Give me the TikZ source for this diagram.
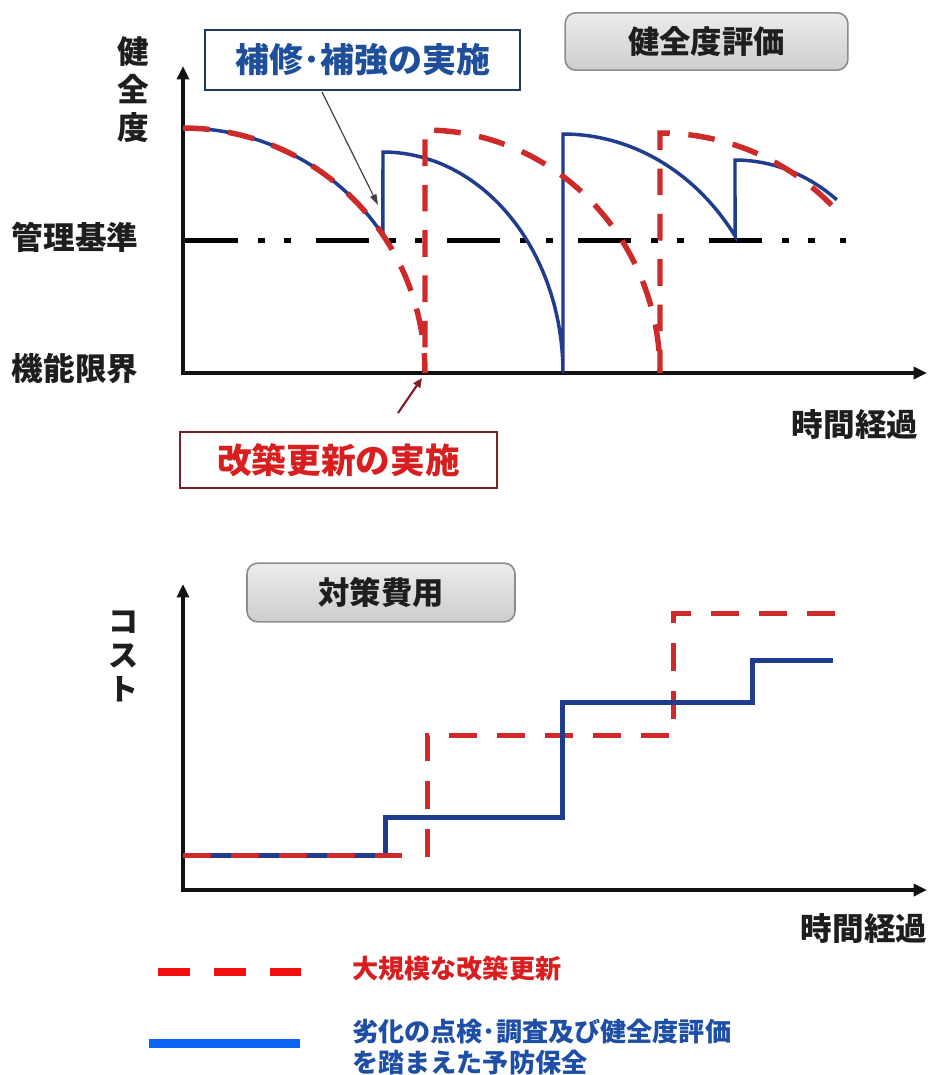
\documentclass[tikz,border=0pt]{standalone}
\usepackage{fontspec}
\setmainfont{Noto Sans CJK JP}
\usetikzlibrary{arrows.meta}
\definecolor{navy}{HTML}{1F3C8F}
\definecolor{dred}{HTML}{CF2A2A}
\definecolor{boxbluetxt}{HTML}{1F4E9A}
\definecolor{boxborder}{HTML}{1F3864}
\definecolor{redtxt}{HTML}{D81E1E}
\definecolor{redborder}{HTML}{7F1F2A}
\definecolor{legred}{HTML}{F01010}
\definecolor{legblue}{HTML}{0A64F5}
\definecolor{legbluetxt}{HTML}{1E4FA6}
\definecolor{graytop}{HTML}{ECECEC}
\definecolor{graybot}{HTML}{CDCDCD}
\definecolor{grayborder}{HTML}{8C8C8C}
\definecolor{axiscol}{HTML}{111111}
\definecolor{labelcol}{HTML}{1E1E1E}
\begin{document}
\begin{tikzpicture}[x=0.75pt,y=-0.75pt,
  axisline/.style={line width=3pt, draw=axiscol, -{Triangle[length=10pt,width=9pt]}},
  bluecurve/.style={line width=2.6pt, draw=navy},
  redcurve/.style={line width=4.1pt, draw=dred, dash pattern=on 20pt off 14pt},
  bluestep/.style={line width=3.75pt, draw=navy},
  redstep/.style={line width=3.75pt, draw=dred, dash pattern=on 21pt off 15pt},
  refline/.style={line width=3.75pt, draw=black, dash pattern=on 39.75pt off 15pt on 5.25pt off 14.25pt on 5.25pt off 18.75pt},
  labeltext/.style={font=\bfseries\fontsize{23.7pt}{28.5pt}\selectfont, text=labelcol, inner sep=0pt},
  vlabel/.style={labeltext, align=center},
  graybox/.style={draw=grayborder, line width=1.2pt, rounded corners=8pt, top color=graytop, bottom color=graybot, inner sep=0pt, font=\bfseries\fontsize{23.5pt}{28pt}\selectfont, text=labelcol},
  bluebox/.style={draw=boxborder, line width=1.6pt, fill=white, text=boxbluetxt, inner sep=0pt, minimum width=236pt, minimum height=45pt, font=\bfseries\fontsize{25.5pt}{30pt}\selectfont},
  redbox/.style={draw=redborder, line width=1.6pt, fill=white, text=redtxt, inner sep=0pt, minimum width=238pt, minimum height=42pt, font=\bfseries\fontsize{26pt}{30pt}\selectfont},
  legtext/.style={font=\bfseries\fontsize{19.6pt}{23.25pt}\selectfont, inner sep=0pt, anchor=west, align=left}
]
\fill[white] (0,0) rectangle (929,1075);
\useasboundingbox (0,0) rectangle (929,1075);

% ---------- top chart ----------
\coordinate (t0) at (183,375);
\coordinate (tY) at (183,66);
\coordinate (tX0) at (181,373);
\coordinate (tX) at (927,373);
\draw[axisline] (t0) -- (tY);
\draw[axisline] (tX0) -- (tX);

\coordinate (ref0) at (185,240);
\coordinate (ref1) at (846,240);
\draw[refline] (ref0) -- (ref1);

\node[vlabel] (lhealth) at (133,90) {健\\全\\度};
\node[labeltext] (lmanage) at (75,237) {管理基準};
\node[labeltext] (llimit) at (75,368) {機能限界};
\node[labeltext] (ltime1) at (855,424) {時間経過};

\draw[bluecurve]
  plot[domain=0:55.7,samples=60] ({183+242*sin(\x)},{373-245*cos(\x)})
  -- (383,152)
  -- plot[domain=0:90,samples=80] ({383+180*sin(\x)},{373-221*cos(\x)})
  -- (563,134)
  -- plot[domain=0:55,samples=60] ({563+210*sin(\x)},{373-239*cos(\x)})
  -- (735,160)
  -- plot[domain=0:35.6,samples=40] ({735+175*sin(\x)},{373-213*cos(\x)});

\draw[redcurve]
  plot[domain=0:90,samples=90] ({183+242*sin(\x)},{373-245*cos(\x)})
  -- (425,130)
  -- plot[domain=0:90,samples=90] ({425+235*sin(\x)},{373-243*cos(\x)})
  -- (660,133)
  -- plot[domain=0:47.5,samples=50] ({660+240*sin(\x)},{373-240*cos(\x)});

\node[bluebox] (repbox) at (362.5,60) {補修･補強の実施};
\coordinate (repA) at (322,92);
\coordinate (repB) at (378,205);
\draw[line width=0.9pt, draw=black!75, -{Triangle[length=8pt,width=5pt]}] (repA) -- (repB);

\node[graybox, minimum width=212pt, minimum height=43pt] (evalbox) at (706.5,41.5) {健全度評価};

\node[redbox] (renbox) at (338.5,460) {改築更新の実施};
\coordinate (renA) at (398,413);
\coordinate (renB) at (422,378);
\draw[line width=1.6pt, draw=redborder, -{Triangle[length=7pt,width=6pt]}] (renA) -- (renB);

% ---------- bottom chart ----------
\coordinate (b0) at (183,892);
\coordinate (bY) at (183,584);
\coordinate (bX0) at (181,890);
\coordinate (bX) at (927,890);
\draw[axisline] (b0) -- (bY);
\draw[axisline] (bX0) -- (bX);

\node[vlabel, font=\bfseries\fontsize{22.5pt}{25.5pt}\selectfont] (lcost) at (123,656) {コ\\ス\\ト};
\node[labeltext] (ltime2) at (864,928) {時間経過};
\node[graybox, minimum width=201pt, minimum height=44pt] (costbox) at (381,592.5) {対策費用};

\coordinate (rs0) at (427,857);
\coordinate (rs1) at (427,735);
\coordinate (rs2) at (673,735);
\coordinate (rs3) at (673,613);
\coordinate (rs4) at (846,613);
\draw[redstep] (rs0) -- (rs1) -- (rs2) -- (rs3) -- (rs4);

\coordinate (bs0) at (183,855);
\coordinate (bs1) at (385,855);
\coordinate (bs2) at (385,817);
\coordinate (bs3) at (562,817);
\coordinate (bs4) at (562,702);
\coordinate (bs5) at (752,702);
\coordinate (bs6) at (752,660);
\coordinate (bs7) at (833,660);
\draw[bluestep] (bs0) -- (bs1) -- (bs2) -- (bs3) -- (bs4) -- (bs5) -- (bs6) -- (bs7);

\coordinate (rb0) at (183,855);
\coordinate (rb1) at (402,855);
\draw[redstep] (rb0) -- (rb1);

% ---------- legend ----------
\coordinate (lr0) at (158,972);
\coordinate (lr1) at (301,972);
\draw[line width=6pt, draw=legred, dash pattern=on 24pt off 18pt] (lr0) -- (lr1);
\node[legtext, text=redtxt] (legr) at (352,968) {大規模な改築更新};

\coordinate (lb0) at (149,1043);
\coordinate (lb1) at (300,1043);
\draw[line width=6.75pt, draw=legblue] (lb0) -- (lb1);
\node[legtext, text=legbluetxt] (legb) at (352,1047.5) {劣化の点検･調査及び健全度評価\\を踏まえた予防保全};
\end{tikzpicture}
\end{document}
